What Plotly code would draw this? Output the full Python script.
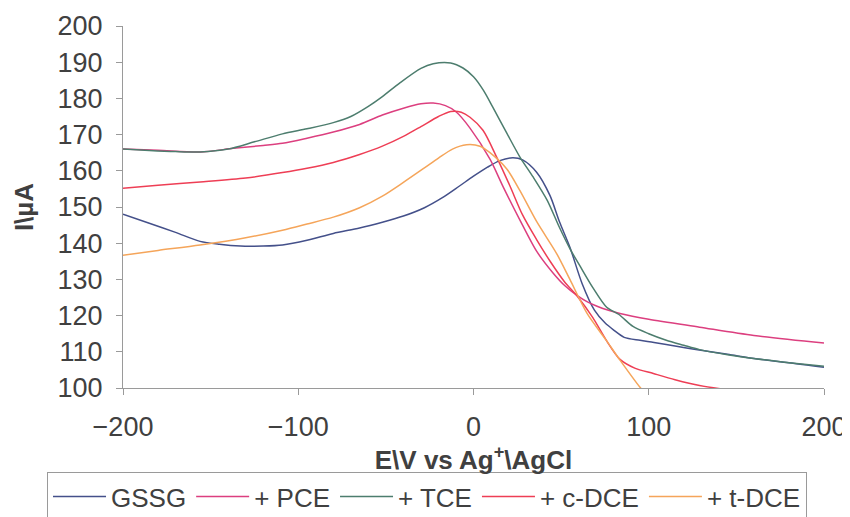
import plotly.graph_objects as go

# ---- data ----
gssg_x = [-200,-185,-170,-156,-145,-133,-120,-109,-95,-80,-65,-52,-40,-28,-18,-8,0,8,15,22.5,28,36,43.6,49,55,62,69,75,80,86,95,103,115,125,145,162,180,200]
gssg_y = [148,145.5,143,140.5,139.7,139.2,139.2,139.5,140.8,142.7,144.2,145.8,147.5,149.8,152.5,155.8,158.5,161,162.8,163.6,163,159.6,153.2,146,138.9,128.8,121.5,118,116,114,113.2,112.6,111.6,110.8,109.3,108,107,105.7]

pce_x = [-200,-180,-156,-137,-120,-109,-95,-80,-65,-52,-40,-30,-23,-16,-10,-2,9.4,17,26.5,36,45.5,52,59,65,70.5,77,83.6,100,129,160,200]
pce_y = [166,165.7,165.2,166.2,167,167.6,169,170.7,172.8,175.4,177.3,178.5,178.7,178,176.3,171.8,163.2,155.5,146.4,137.8,131.7,128.3,125.6,123.8,122.6,121.5,120.6,119,116.8,114.5,112.4]

tce_x = [-200,-185,-170,-156,-140,-125,-109,-95,-80,-70,-60,-52,-42,-30,-23,-13,-6,0,5.6,11,19,26.5,34,42,49,55,61,68,76,83,91,100,110,120,129,145,162,180,200]
tce_y = [166,165.6,165.3,165.2,166,168,170.2,171.6,173.3,175,177.8,180.5,184.3,188.3,189.6,189.8,188.4,186,182.3,177.6,170.4,163.8,158.3,151.9,144.4,138.5,133.5,127.8,122.3,120.3,117,115,113.2,111.8,110.6,109.2,108,107,106]

cdce_x = [-200,-180,-156,-130,-109,-95,-80,-65,-52,-40,-30,-20,-13,-7,-2,5.4,13,20.8,28,36,44,52,59,68,76,83.6,92,102.6,115,129,145,170]
cdce_y = [155.2,156,156.9,158,159.5,160.7,162.3,164.5,166.8,169.5,172.2,175,176.4,176.2,174.8,171.2,164,155.8,147.8,141,134.8,129.3,125.5,119.5,113,107.9,105.5,104,102.3,100.7,99.5,98]

tdce_x = [-200,-180,-156,-130,-109,-95,-80,-65,-52,-40,-28,-20,-12,-4,3.7,9.4,19,26.5,36,47.6,55,64.8,76,83.6,95,100]
tdce_y = [136.7,138,139.5,141.5,143.6,145.3,147.2,149.8,153,156.8,160.8,163.5,166,167.2,166.8,165,160.5,154.5,146,137,130,120.6,113,107.7,100.2,97.5]

names = ["GSSG", "+ PCE", "+ TCE", "+ c-DCE", "+ t-DCE"]
colors = ["#44508a", "#dc3f7f", "#4d7d6e", "#ee3e55", "#f5a55a"]
xs = [gssg_x, pce_x, tce_x, cdce_x, tdce_x]
ys = [gssg_y, pce_y, tce_y, cdce_y, tdce_y]

font_family = "Liberation Sans, Arial, sans-serif"
text_color = "#404040"
axis_color = "#9a9a9a"

fig = go.Figure()
for n, c, x, y in zip(names, colors, xs, ys):
    fig.add_trace(go.Scatter(x=x, y=y, name=n, mode="lines",
                             line=dict(color=c, width=1.5, shape="spline", smoothing=0.8)))

# page body adds an 8px offset, so the figure is sized to fill the rest of the window
fig.update_layout(
    width=842, height=509,
    margin=dict(l=115, r=26, t=18, b=129, autoexpand=False),
    paper_bgcolor="white", plot_bgcolor="white",
    font=dict(family=font_family, size=26, color=text_color),
    showlegend=True,
    legend=dict(orientation="h", x=-0.1084, y=-0.232, xanchor="left", yanchor="top",
                bordercolor=axis_color, borderwidth=1, font=dict(size=26, color=text_color),
                itemwidth=53, bgcolor="white"),
)
fig.update_xaxes(range=[-200, 200], tickvals=[-200, -100, 0, 100, 200],
                 showline=True, linecolor=axis_color, linewidth=1, automargin=False,
                 ticks="outside", ticklen=6, tickcolor=axis_color, tickfont=dict(size=27),
                 showgrid=False, zeroline=False, ticklabelstandoff=9,
                 title=dict(text="<b>E\\V vs Ag<sup>+</sup>\\AgCl</b>", font=dict(size=26), standoff=0))
fig.update_yaxes(range=[100, 200], dtick=10, tick0=100, automargin=False,
                 showline=True, linecolor=axis_color, linewidth=1,
                 ticks="outside", ticklen=6, tickcolor=axis_color, tickfont=dict(size=27),
                 showgrid=False, zeroline=False, ticklabelstandoff=8,
                 title=dict(text="<b>I\\µA</b>", font=dict(size=26), standoff=16))

fig.write_html("out.html")
